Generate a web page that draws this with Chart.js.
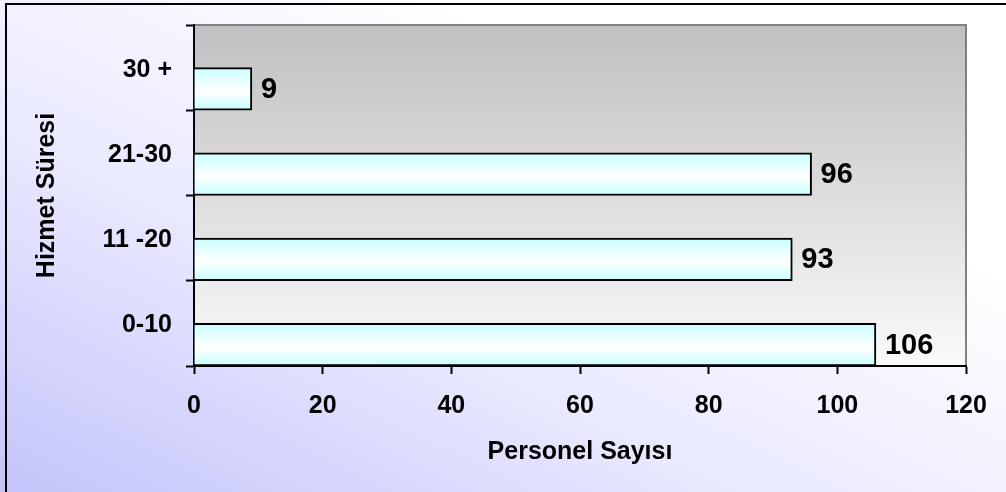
<!DOCTYPE html>
<html>
<head>
<meta charset="utf-8">
<script src="https://cdn.jsdelivr.net/npm/chart.js@4/dist/chart.umd.min.js"></script>
<style>
  html, body { margin: 0; padding: 0; overflow: hidden; }
  #wrap {
    position: relative;
    width: 1006px;
    height: 492px;
    background: linear-gradient(to top right, #c4c4fb 0%, #eaeaff 38%, #ffffff 72%);
    overflow: hidden;
  }
  #frame {
    position: absolute;
    left: 5px; top: 3px;
    width: 1010px; height: 492px;
    border: 2px solid #000;
    box-sizing: border-box;
    pointer-events: none;
  }
  canvas { position: absolute; left: 0; top: 0; }
</style>
</head>
<body>
<div id="wrap">
  <canvas id="chart" width="1006" height="492"></canvas>
  <div id="frame"></div>
</div>
<script>
// Data
const serviceYears = ['30 +', '21-30', '11 -20', '0-10'];
const staffCounts = [9, 96, 93, 106];
const xTicks = [0, 20, 40, 60, 80, 100, 120];
// empty series so the real bars sit in the lower half of each band (as in the original)
const gapSeries = [null, null, null, null];

const FONT = 'Liberation Sans, Arial, sans-serif';

// Function to build the cyan-white-cyan fill of one bar
function barFill(context) {
  const chart = context.chart;
  const yScale = chart.scales.y;
  if (!chart.chartArea || !yScale || context.dataIndex === undefined) {
    return '#ccffff';
  }
  const center = yScale.getPixelForValue(context.dataIndex);
  const half = Math.abs(yScale.getPixelForValue(1) - yScale.getPixelForValue(0)) / 2;
  const grad = chart.ctx.createLinearGradient(0, center, 0, center + half);
  grad.addColorStop(0, '#c8ffff');
  grad.addColorStop(0.55, '#ffffff');
  grad.addColorStop(1, '#c8ffff');
  return grad;
}

// Plot area background + grey frame
const plotBackground = {
  id: 'plotBackground',
  beforeDraw(chart) {
    const { ctx, chartArea } = chart;
    const { left, top, right, bottom } = chartArea;
    ctx.save();
    const grad = ctx.createLinearGradient(0, top, 0, bottom);
    grad.addColorStop(0, '#c0c0c0');
    grad.addColorStop(1, '#fafafa');
    ctx.fillStyle = grad;
    ctx.fillRect(left, top, right - left, bottom - top);
    ctx.strokeStyle = '#808080';
    ctx.lineWidth = 2;
    ctx.beginPath();
    ctx.moveTo(left, top);
    ctx.lineTo(right, top);
    ctx.lineTo(right, bottom);
    ctx.stroke();
    ctx.restore();
  }
};

// Value labels at the end of each bar
const valueLabels = {
  id: 'valueLabels',
  afterDatasetsDraw(chart) {
    const { ctx } = chart;
    const meta = chart.getDatasetMeta(1);
    ctx.save();
    ctx.font = 'bold 29px ' + FONT;
    ctx.fillStyle = '#000';
    ctx.textAlign = 'left';
    ctx.textBaseline = 'middle';
    meta.data.forEach((bar, i) => {
      ctx.fillText(String(staffCounts[i]), bar.x + 9, bar.y + 1);
    });
    ctx.restore();
  }
};

const chartCtx = document.getElementById('chart').getContext('2d');
new Chart(chartCtx, {
  type: 'bar',
  data: {
    labels: serviceYears,
    datasets: [
      {
        label: 'gap',
        data: gapSeries,
        backgroundColor: 'rgba(0,0,0,0)',
        borderWidth: 0
      },
      {
        label: 'Personel Sayısı',
        data: staffCounts,
        backgroundColor: barFill,
        borderColor: '#000',
        borderWidth: 2,
        borderSkipped: 'left'
      }
    ]
  },
  options: {
    indexAxis: 'y',
    responsive: false,
    animation: false,
    categoryPercentage: 1,
    barPercentage: 1,
    layout: {
      padding: { left: 0, top: 25, right: 40, bottom: 0 }
    },
    plugins: {
      legend: { display: false },
      tooltip: { enabled: false }
    },
    scales: {
      x: {
        min: 0,
        max: 120,
        afterFit(scale) { scale.height = 126; },
        afterBuildTicks(scale) { scale.ticks = xTicks.map(v => ({ value: v })); },
        border: { color: '#000', width: 2 },
        grid: {
          drawOnChartArea: false,
          drawTicks: true,
          tickLength: 8,
          tickWidth: 2,
          tickColor: '#000'
        },
        ticks: {
          color: '#000',
          padding: 17,
          font: { family: FONT, size: 25, weight: 'bold' }
        },
        title: {
          display: true,
          text: 'Personel Sayısı',
          color: '#000',
          padding: 25,
          font: { family: FONT, size: 25, weight: 'bold' }
        }
      },
      y: {
        afterFit(scale) {
          scale.width = 194;
          scale.paddingTop = 0;
          scale.paddingBottom = 0;
        },
        border: { color: '#000', width: 2 },
        grid: {
          offset: true,
          drawOnChartArea: false,
          drawTicks: true,
          tickLength: 8,
          tickWidth: 2,
          tickColor: '#000'
        },
        ticks: {
          color: '#000',
          padding: 14,
          labelOffset: 2,
          font: { family: FONT, size: 25, weight: 'bold' }
        },
        title: {
          display: true,
          text: 'Hizmet Süresi',
          color: '#000',
          padding: 32,
          font: { family: FONT, size: 25, weight: 'bold' }
        }
      }
    }
  },
  plugins: [plotBackground, valueLabels]
});
</script>
</body>
</html>
